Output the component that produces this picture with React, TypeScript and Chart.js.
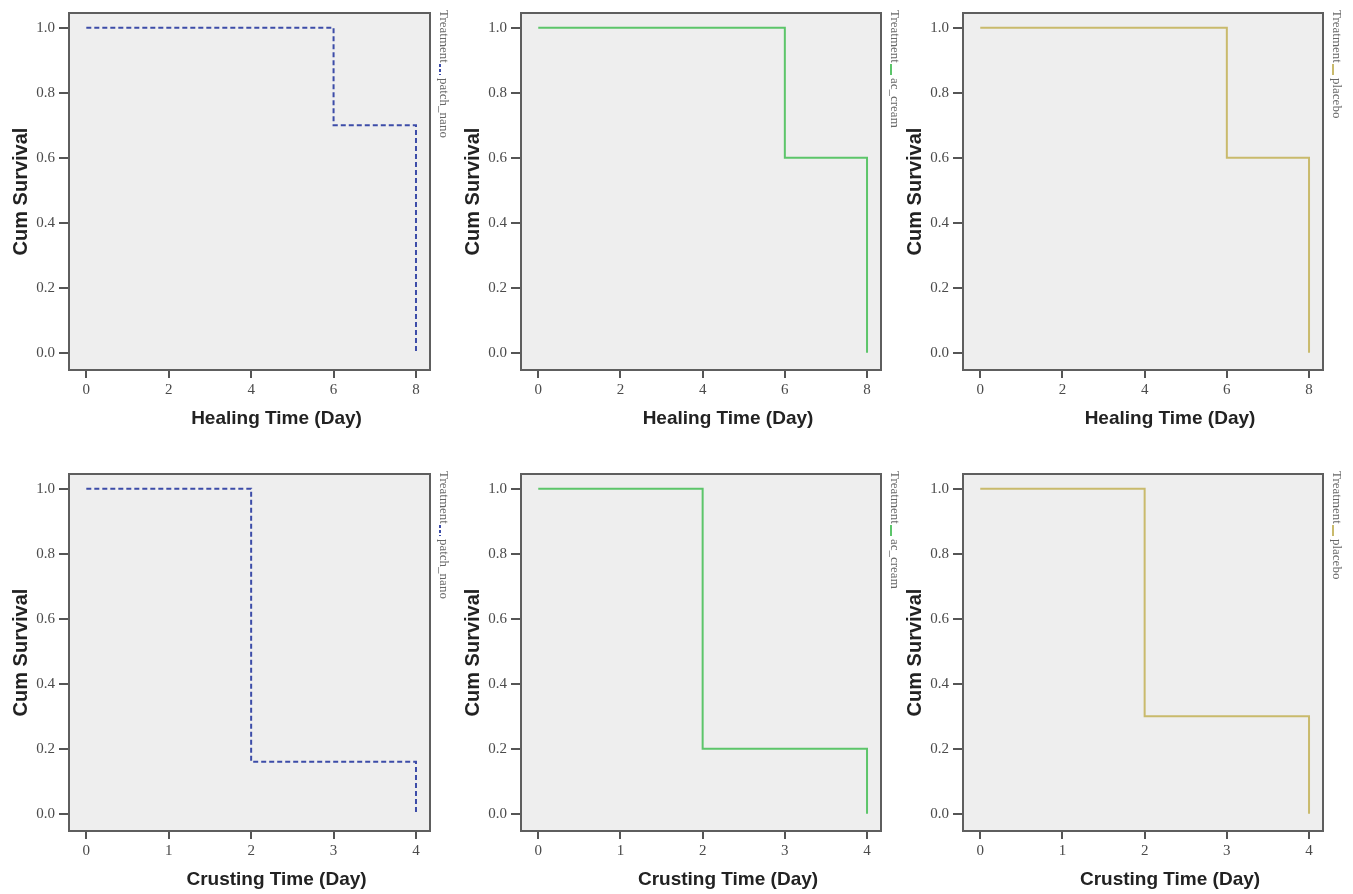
import React, { useEffect, useRef } from "react";
import { Chart, registerables } from "chart.js";
Chart.register(...registerables);

// ---- data ----
const healingTimes = [0, 6, 8];
const crustingTimes = [0, 2, 4];
const healingPatchNano = [1.0, 0.7, 0.0];
const healingAcCream = [1.0, 0.6, 0.0];
const healingPlacebo = [1.0, 0.6, 0.0];
const crustingPatchNano = [1.0, 0.16, 0.0];
const crustingAcCream = [1.0, 0.2, 0.0];
const crustingPlacebo = [1.0, 0.3, 0.0];
const healingXTicks = [0, 2, 4, 6, 8];
const crustingXTicks = [0, 1, 2, 3, 4];
const yTicks = [0, 0.2, 0.4, 0.6, 0.8, 1.0];
const treatments = ["patch_nano", "ac_cream", "placebo"];
const legendTitle = "Treatment";
const yTitle = "Cum Survival";
const healingTitle = "Healing Time (Day)";
const crustingTitle = "Crusting Time (Day)";

// ---- styles ----
const seriesColors = ["#3c4ca8", "#5cc56a", "#c9ba6c"];
const seriesDashed = [true, false, false];
const colLeft = [0, 452, 894];
const colPlotRight = [430, 881, 1323];
const rowTop = [0, 461];
const Y_AXIS_W = 69;
const X_AXIS_H = 70;
const CANVAS_H = 440;
const RIGHT_PAD = 30;
const serif = '"Liberation Serif", "Times New Roman", serif';
const sans = '"Liberation Sans", Arial, sans-serif';

const panelPlugin = {
  id: "panelDecor",
  beforeDraw(chart: any) {
    const { ctx, chartArea: a } = chart;
    ctx.save();
    ctx.fillStyle = "#eeeeee";
    ctx.fillRect(a.left, a.top, a.right - a.left, a.bottom - a.top);
    ctx.restore();
  },
  afterDraw(chart: any) {
    const { ctx, chartArea: a } = chart;
    const o = chart.options.plugins.panelDecor || {};
    ctx.save();
    ctx.strokeStyle = "#5e5e5e";
    ctx.lineWidth = 2;
    ctx.strokeRect(a.left, a.top, a.right - a.left, a.bottom - a.top);
    // x axis title (centred over plot + legend, like the original)
    ctx.font = `bold 19px ${sans}`;
    ctx.fillStyle = "#222";
    ctx.textAlign = "center";
    ctx.textBaseline = "middle";
    ctx.fillText(o.xTitle, (a.left + a.right) / 2 + 27, a.bottom + 49);
    // vertical legend
    ctx.translate(a.right + 13, a.top - 3);
    ctx.rotate(Math.PI / 2);
    ctx.font = `13px ${serif}`;
    ctx.fillStyle = "#666";
    ctx.textBaseline = "middle";
    ctx.textAlign = "left";
    ctx.fillText(o.title, 0, 0);
    const w = ctx.measureText(o.title).width;
    ctx.strokeStyle = o.color;
    ctx.lineWidth = 2;
    ctx.setLineDash(o.dashed ? [3, 2] : []);
    ctx.beginPath();
    ctx.moveTo(w + 1, 3);
    ctx.lineTo(w + 12, 3);
    ctx.stroke();
    ctx.setLineDash([]);
    ctx.fillText(o.label, w + 15, 0);
    ctx.restore();
  },
};

type PanelProps = {
  left: number;
  top: number;
  width: number;
  times: number[];
  values: number[];
  color: string;
  dashed: boolean;
  label: string;
  xTitle: string;
  xTicks: number[];
  xMin: number;
  xMax: number;
};

function Panel(p: PanelProps) {
  const ref = useRef<HTMLCanvasElement>(null);
  useEffect(() => {
    const chart = new Chart(ref.current!, {
      type: "line",
      data: {
        datasets: [
          {
            data: p.times.map((t, i) => ({ x: t, y: p.values[i] })),
            borderColor: p.color,
            borderWidth: 2,
            borderDash: p.dashed ? [5, 3] : [],
            stepped: true,
            pointRadius: 0,
            fill: false,
          } as any,
        ],
      },
      options: {
        animation: false,
        responsive: false,
        layout: { padding: { left: 0, right: RIGHT_PAD, top: 12, bottom: 0 } },
        plugins: {
          legend: { display: false },
          tooltip: { enabled: false },
          panelDecor: {
            title: legendTitle,
            label: p.label,
            color: p.color,
            dashed: p.dashed,
            xTitle: p.xTitle,
          },
        } as any,
        scales: {
          x: {
            type: "linear",
            min: p.xMin,
            max: p.xMax,
            afterFit: (s: any) => {
              s.height = X_AXIS_H;
            },
            afterBuildTicks: (s: any) => {
              s.ticks = p.xTicks.map((v) => ({ value: v }));
            },
            grid: { drawOnChartArea: false, drawTicks: true, tickLength: 8, color: "#555", lineWidth: 2 },
            border: { display: false },
            ticks: {
              padding: 3,
              font: { family: serif, size: 15 },
              color: "#4a4a4a",
              callback: (v: any) => String(v),
            },
            title: { display: false },
          },
          y: {
            type: "linear",
            min: -0.053,
            max: 1.045,
            afterFit: (s: any) => {
              s.width = Y_AXIS_W;
            },
            afterBuildTicks: (s: any) => {
              s.ticks = yTicks.map((v) => ({ value: v }));
            },
            grid: { drawOnChartArea: false, drawTicks: true, tickLength: 10, color: "#555", lineWidth: 2 },
            border: { display: false },
            ticks: {
              padding: 4,
              font: { family: serif, size: 15 },
              color: "#4a4a4a",
              callback: (v: any) => Number(v).toFixed(1),
            },
            title: {
              display: true,
              text: yTitle,
              font: { family: sans, size: 20, weight: "bold" },
              color: "#222",
              padding: { top: 9, bottom: 0 },
            },
          },
        } as any,
      },
      plugins: [panelPlugin],
    });
    return () => chart.destroy();
  }, []);
  return (
    <canvas
      ref={ref}
      width={p.width}
      height={CANVAS_H}
      style={{ position: "absolute", left: p.left, top: p.top, width: p.width, height: CANVAS_H }}
    />
  );
}

export default function App() {
  const healingSeries = [healingPatchNano, healingAcCream, healingPlacebo];
  const crustingSeries = [crustingPatchNano, crustingAcCream, crustingPlacebo];
  const panels: PanelProps[] = [];
  for (let r = 0; r < 2; r++) {
    for (let c = 0; c < 3; c++) {
      const healing = r === 0;
      panels.push({
        left: colLeft[c],
        top: rowTop[r],
        width: colPlotRight[c] - colLeft[c] + RIGHT_PAD,
        times: healing ? healingTimes : crustingTimes,
        values: healing ? healingSeries[c] : crustingSeries[c],
        color: seriesColors[c],
        dashed: seriesDashed[c],
        label: treatments[c],
        xTitle: healing ? healingTitle : crustingTitle,
        xTicks: healing ? healingXTicks : crustingXTicks,
        xMin: healing ? -0.42 : -0.21,
        xMax: healing ? 8.34 : 4.17,
      });
    }
  }
  return (
    <div
      style={{
        position: "fixed",
        left: 0,
        top: 0,
        width: 1353,
        height: 894,
        background: "#fff",
        overflow: "hidden",
      }}
    >
      {panels.map((p, i) => (
        <Panel key={i} {...p} />
      ))}
    </div>
  );
}
